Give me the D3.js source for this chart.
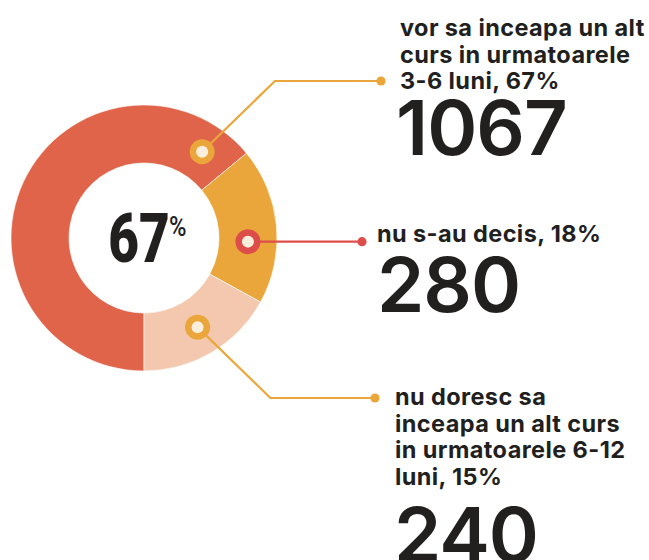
<!DOCTYPE html>
<html><head><meta charset="utf-8">
<script src="https://cdn.jsdelivr.net/npm/d3@7"></script>
<style>body{margin:0;background:#fff} svg{display:block}</style>
</head><body>
<svg id="c" width="649" height="560"></svg>
<script>
// ---- data ----
const categories = ["vor sa inceapa un alt curs in urmatoarele 3-6 luni", "nu s-au decis", "nu doresc sa inceapa un alt curs in urmatoarele 6-12 luni"];
const counts = [1067, 280, 240];
const percents = [67, 18, 15];
const arcShares = [64, 19, 17]; // slice sizes as drawn in the picture
const labelLines = [
  ["vor sa inceapa un alt", "curs in urmatoarele", "3-6 luni, 67%"],
  ["nu s-au decis, 18%"],
  ["nu doresc sa", "inceapa un alt curs", "in urmatoarele 6-12", "luni, 15%"]
];
const centerValue = "67";

// ---- style / layout ----
const sliceColors = ["#E0644A", "#EAA63A", "#F3C8AE"];
const markerColors = ["#EAA63A", "#DD4E4A", "#EAA63A"];
const cx = 144, cy = 238, rOuter = 133, rInner = 75;
const markerAngleDeg = [34, 92, 149];
const elbowY = [81, null, 398];
const dotX = [381, 362, 375];
const labelX = [400, 377, 395];
const labelY0 = [36, 242, 405];
const lineH = 26.7;
const numX = [396, 377, 394];
const numY = [155, 312, 562];
const ink = "#221F1F";
const font = "Inter, 'Noto Sans', sans-serif";

const svg = d3.select("#c");
const g = svg.append("g").attr("transform", `translate(${cx},${cy})`);

const pie = d3.pie().sort(null).value(d => d).startAngle(-Math.PI).endAngle(Math.PI);
const arc = d3.arc().innerRadius(rInner).outerRadius(rOuter);
g.selectAll("path.slice").data(pie(arcShares)).join("path")
  .attr("class", "slice")
  .attr("d", arc)
  .attr("fill", (d, i) => sliceColors[i])
  .attr("stroke", "#fff").attr("stroke-width", 0.6);

const rMid = (rInner + rOuter) / 2;
const angle = d3.scaleLinear().domain([0, 360]).range([0, 2 * Math.PI]);
const markers = markerAngleDeg.map((a, i) => {
  const t = angle(a);
  return { i, x: cx + rMid * Math.sin(t), y: cy - rMid * Math.cos(t) };
});

// leader lines
markers.forEach(m => {
  let pts;
  if (elbowY[m.i] === null) {
    pts = [[m.x, m.y], [dotX[m.i], m.y]];
  } else {
    const dy = elbowY[m.i] - m.y;
    pts = [[m.x, m.y], [m.x + Math.abs(dy) + 2, elbowY[m.i]], [dotX[m.i], elbowY[m.i]]];
  }
  svg.append("path").attr("d", d3.line()(pts))
    .attr("fill", "none").attr("stroke", markerColors[m.i]).attr("stroke-width", 2.2);
  const end = pts[pts.length - 1];
  svg.append("circle").attr("cx", end[0]).attr("cy", end[1]).attr("r", 4.6).attr("fill", markerColors[m.i]);
  svg.append("circle").attr("cx", m.x).attr("cy", m.y).attr("r", 12.5).attr("fill", markerColors[m.i]);
  svg.append("circle").attr("cx", m.x).attr("cy", m.y).attr("r", 6).attr("fill", "#FCEEDC");
});

// center label
const cg = svg.append("g").attr("transform", `translate(139,262) scale(0.78,1)`);
cg.append("text").text(centerValue).attr("text-anchor", "middle")
  .attr("font-family", "Roboto, sans-serif").attr("font-weight", 900).attr("font-size", 68).attr("fill", ink);
svg.append("g").attr("transform", `translate(169,236) scale(0.85,1)`)
  .append("text").text("%")
  .attr("font-family", "Roboto, sans-serif").attr("font-weight", 500).attr("font-size", 28).attr("fill", ink);

// labels
labelLines.forEach((lines, i) => {
  const t = svg.append("text").attr("font-family", font).attr("font-weight", 700)
    .attr("font-size", 23.5).attr("letter-spacing", 0.4).attr("fill", ink);
  lines.forEach((l, j) => t.append("tspan").attr("x", labelX[i]).attr("y", labelY0[i] + j * lineH).text(l));
  svg.append("text").attr("x", numX[i]).attr("y", numY[i]).text(counts[i])
    .attr("font-family", font).attr("font-weight", 600).attr("font-size", 76).attr("fill", ink)
    .attr("letter-spacing", -1);
});
</script>
</body></html>
